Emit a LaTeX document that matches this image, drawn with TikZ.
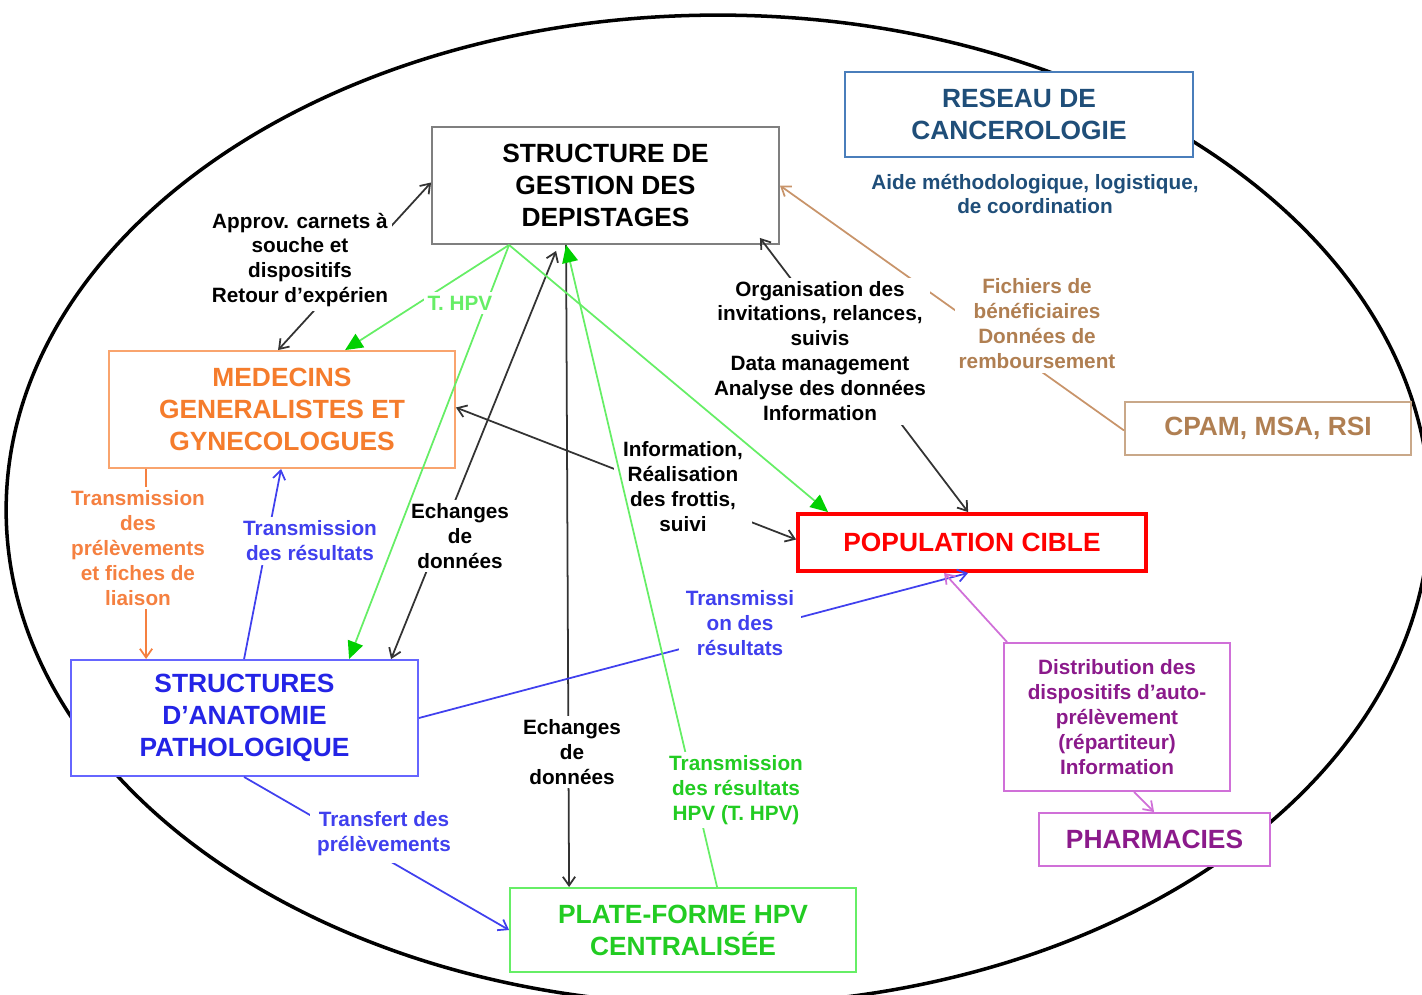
\documentclass[tikz,border=0pt]{standalone}
\usepackage{fontspec}
\setmainfont{Liberation Sans}
\usetikzlibrary{positioning,calc,arrows.meta}

\definecolor{sgdgray}{HTML}{7F7F7F}
\definecolor{resblue}{HTML}{4A7EBB}
\definecolor{restext}{HTML}{1F4E79}
\definecolor{medorange}{HTML}{F9A46E}
\definecolor{medtext}{HTML}{F57C2C}
\definecolor{popred}{HTML}{FF0000}
\definecolor{cpamtan}{HTML}{C9A889}
\definecolor{cpamtext}{HTML}{B07F52}
\definecolor{anablue}{HTML}{6666FF}
\definecolor{anatext}{HTML}{2424E6}
\definecolor{hpvgreen}{HTML}{66EE66}
\definecolor{hpvtext}{HTML}{22CC22}
\definecolor{hpvhead}{HTML}{00D000}
\definecolor{pharmviolet}{HTML}{D070D8}
\definecolor{pharmtext}{HTML}{8B1A8B}
\definecolor{linkblue}{HTML}{4040EE}
\definecolor{linkbrown}{HTML}{C8946A}
\definecolor{linkorange}{HTML}{F58040}

\newcommand{\boxtxt}{\fontsize{15}{18.2}\selectfont\bfseries}
\newcommand{\lbltxt}{\fontsize{11.8}{14.2}\selectfont\bfseries}

\begin{document}
\begin{tikzpicture}[x=0.02cm, y=-0.02cm,
    box/.style={draw, fill=white, rectangle, line width=1.1pt, inner sep=0pt, align=center, font=\boxtxt},
    lbl/.style={align=center, font=\lbltxt, fill=white, inner sep=2pt},
    link/.style={line width=1pt, draw=black!80, -{Straight Barb[length=5pt,width=7pt]}},
    dlink/.style={link, {Straight Barb[length=5pt,width=7pt]}-{Straight Barb[length=5pt,width=7pt]}},
    hpv/.style={line width=1pt, draw=hpvgreen, -{Triangle[length=10pt,width=9pt,color=hpvhead]}}]

    \useasboundingbox (0,0) rectangle (1422,994);

    % Outer ellipse
    \draw[line width=2pt] (718,510) ellipse [x radius=14.24cm, y radius=9.9cm];

    % Boxes
    \node[box, draw=sgdgray, minimum width=6.94cm, minimum height=2.34cm] (sgd) at (605.5,185.5) {STRUCTURE DE\\GESTION DES\\DEPISTAGES};
    \node[box, draw=resblue, text=restext, minimum width=6.96cm, minimum height=1.7cm] (reseau) at (1019,114.5) {RESEAU DE\\CANCEROLOGIE};
    \node[box, draw=medorange, text=medtext, minimum width=6.92cm, minimum height=2.34cm] (med) at (282,409.5) {MEDECINS\\GENERALISTES ET\\GYNECOLOGUES};
    \node[box, draw=popred, text=popred, line width=2.2pt, minimum width=6.96cm, minimum height=1.14cm] (pop) at (972,542.5) {POPULATION CIBLE};
    \node[box, draw=cpamtan, text=cpamtext, minimum width=5.72cm, minimum height=1.06cm] (cpam) at (1268,428.5) {CPAM, MSA, RSI};
    \node[box, draw=anablue, text=anatext, minimum width=6.94cm, minimum height=2.32cm] (anat) at (244.5,718) {STRUCTURES\\D'ANATOMIE\\PATHOLOGIQUE};
    \node[box, draw=hpvgreen, text=hpvtext, minimum width=6.92cm, minimum height=1.68cm] (plate) at (683,930) {PLATE-FORME HPV\\CENTRALISÉE};
    \node[box, draw=pharmviolet, text=pharmtext, font=\lbltxt, minimum width=4.52cm, minimum height=2.96cm] (distr) at (1117,717) {Distribution des\\dispositifs d'auto-\\prélèvement\\(répartiteur)\\Information};
    \node[box, draw=pharmviolet, text=pharmtext, minimum width=4.62cm, minimum height=1.06cm] (pharma) at (1154.5,839.5) {PHARMACIES};
    \node[lbl, text=restext, below=0.24cm of reseau, xshift=0.32cm] (aide) {Aide méthodologique, logistique,\\de coordination};

    % Connections
    \draw[dlink] ($(med.north west)+(170,0)$) -- ($(sgd.west)+(0,-3)$);
    \draw[dlink] ($(anat.north west)+(321,0)$) -- ($(sgd.south west)+(125,6)$);
    \draw[link] ($(sgd.south west)+(135,0)$) -- ($(plate.north west)+(60,0)$);
    \draw[dlink] ($(med.east)+(0,-2)$) -- ($(pop.west)+(0,-3)$);
    \draw[dlink] ($(sgd.south east)+(-20,-7)$) -- ($(pop.north west)+(172,0)$);
    \draw[link, draw=linkbrown] ($(cpam.west)+(0,2)$) -- (sgd.east);
    \draw[link, draw=linkorange] ($(med.south west)+(38,0)$) -- ($(anat.north west)+(76,0)$);
    \draw[link, draw=linkblue] ($(anat.north west)+(174,0)$) -- ($(med.south west)+(173,0)$);
    \draw[link, draw=linkblue] (anat.east) -- ($(pop.south west)+(172,0)$);
    \draw[link, draw=linkblue] ($(anat.south west)+(174,0)$) -- (plate.west);
    \draw[link, draw=pharmviolet] ($(distr.north west)+(4,0)$) -- ($(pop.south west)+(148,0)$);
    \draw[link, draw=pharmviolet] ($(distr.south west)+(131,0)$) -- ($(pharma.north west)+(116,0)$);

    % Labels on the links
    \node[lbl] (approv) at (300,260) {Approv. carnets à\\souche et\\dispositifs\\Retour d'expérien};
    \node[lbl] (orga) at (820,351) {Organisation des\\invitations, relances,\\suivis\\Data management\\Analyse des données\\Information};
    \node[lbl, text=cpamtext] (fichiers) at (1037,324) {Fichiers de\\bénéficiaires\\Données de\\remboursement};
    \node[lbl, inner sep=5pt] (info) at (683,487) {Information,\\Réalisation\\des frottis,\\suivi};
    \node[lbl] (echg1) at (460,536) {Echanges\\de\\données};
    \node[lbl, text=linkorange] (transprel) at (138,548) {Transmission\\des\\prélèvements\\et fiches de\\liaison};
    \node[lbl, text=linkblue] (transres1) at (310,541) {Transmission\\des résultats};
    \node[lbl, text=linkblue, inner sep=4pt] (transres2) at (740,623) {Transmissi\\on des\\résultats};
    \node[lbl] (echg2) at (572,752) {Echanges\\de\\données};
    \node[lbl, text=linkblue, inner sep=4pt] (transfert) at (384,834) {Transfert des\\prélèvements};

    % HPV results links
    \draw[hpv] ($(sgd.south west)+(78,0)$) -- ($(med.north west)+(237,0)$);
    \draw[hpv] ($(sgd.south west)+(78,0)$) -- ($(anat.north west)+(279,0)$);
    \draw[hpv] ($(sgd.south west)+(78,0)$) -- ($(pop.north west)+(32,0)$);
    \draw[hpv] ($(plate.north west)+(208,0)$) -- ($(sgd.south west)+(135,0)$);
    \node[lbl, text=hpvgreen] (thpv) at (460,303) {T. HPV};
    \node[lbl, text=hpvtext] (transhpv) at (736,790) {Transmission\\des résultats\\HPV (T. HPV)};
\end{tikzpicture}
\end{document}
